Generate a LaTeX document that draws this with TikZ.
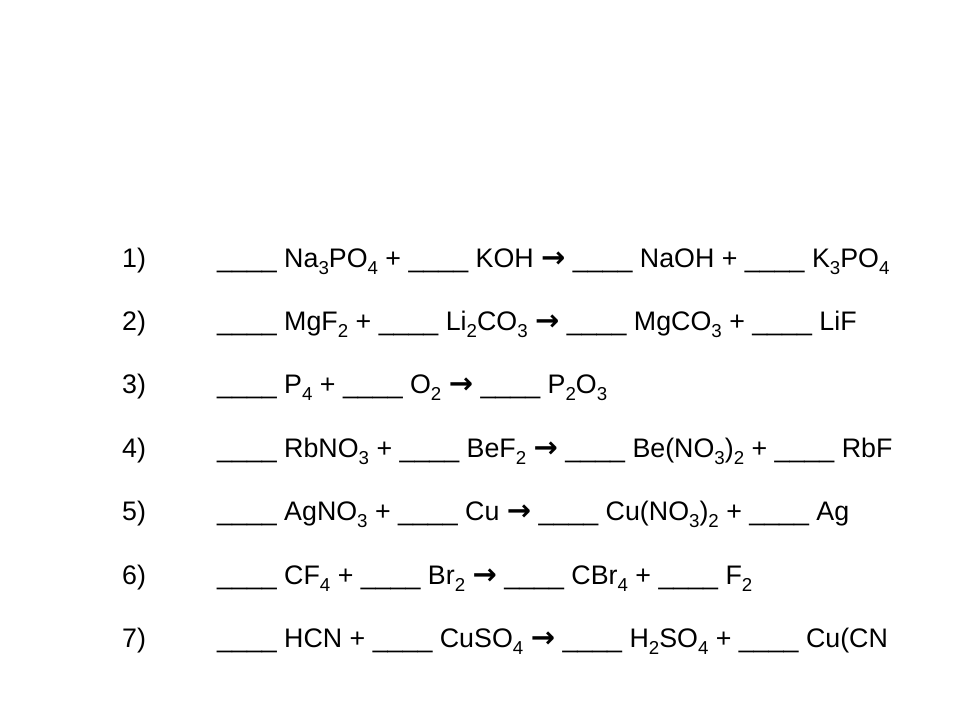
\documentclass[tikz,border=0pt]{standalone}
\usepackage{fontspec}
\setmainfont{Liberation Sans}
\newfontfamily\arrowfont{DejaVu Sans}
\newcommand{\sbs}[1]{\raisebox{-7bp}{\fontsize{18.7bp}{20bp}\selectfont #1}}
\newcommand{\blank}{\_\_\_\_}
\newcommand{\yields}{{\arrowfont\bfseries\fontsize{29bp}{30bp}\selectfont →}}
\tikzset{
  eqtext/.style={anchor=base west, inner sep=0pt, font=\fontsize{26.8bp}{30bp}\selectfont},
}
\begin{document}
\begin{tikzpicture}[x=1bp,y=-1bp]
\useasboundingbox (0,0) rectangle (960,720);
\fill[white] (0,0) rectangle (960,720);
\node[eqtext] (n1) at (122,267) {1)};
\node[eqtext] (n2) at (122,330.4) {2)};
\node[eqtext] (n3) at (122,393.8) {3)};
\node[eqtext] (n4) at (122,457.2) {4)};
\node[eqtext] (n5) at (122,520.6) {5)};
\node[eqtext] (n6) at (122,584) {6)};
\node[eqtext] (n7) at (122,647.4) {7)};
\node[eqtext] (e1) at (217,267) {\blank{} Na\sbs{3}PO\sbs{4} + \blank{} KOH \yields{} \blank{} NaOH + \blank{} K\sbs{3}PO\sbs{4}};
\node[eqtext] (e2) at (217,330.4) {\blank{} MgF\sbs{2} + \blank{} Li\sbs{2}CO\sbs{3} \yields{} \blank{} MgCO\sbs{3} + \blank{} LiF};
\node[eqtext] (e3) at (217,393.8) {\blank{} P\sbs{4} + \blank{} O\sbs{2} \yields{} \blank{} P\sbs{2}O\sbs{3}};
\node[eqtext] (e4) at (217,457.2) {\blank{} RbNO\sbs{3} + \blank{} BeF\sbs{2} \yields{} \blank{} Be(NO\sbs{3})\sbs{2} + \blank{} RbF};
\node[eqtext] (e5) at (217,520.6) {\blank{} AgNO\sbs{3} + \blank{} Cu \yields{} \blank{} Cu(NO\sbs{3})\sbs{2} + \blank{} Ag};
\node[eqtext] (e6) at (217,584) {\blank{} CF\sbs{4} + \blank{} Br\sbs{2} \yields{} \blank{} CBr\sbs{4} + \blank{} F\sbs{2}};
\node[eqtext] (e7) at (217,647.4) {\blank{} HCN + \blank{} CuSO\sbs{4} \yields{} \blank{} H\sbs{2}SO\sbs{4} + \blank{} Cu(CN};
\end{tikzpicture}
\end{document}
